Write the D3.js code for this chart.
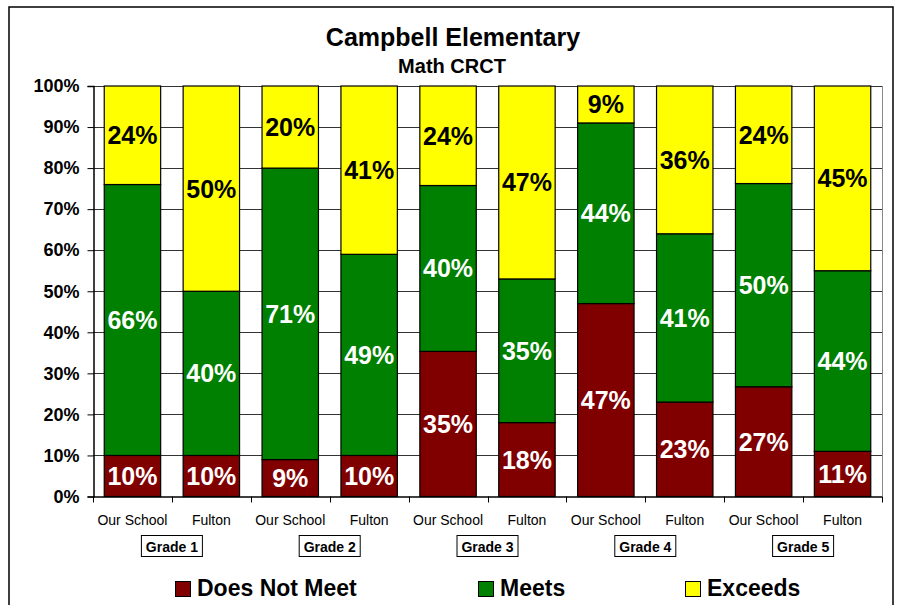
<!DOCTYPE html>
<html>
<head>
<meta charset="utf-8">
<script src="https://cdn.jsdelivr.net/npm/d3@7"></script>
<style>
  body { margin: 0; background: #fff; }
  text { font-family: Arial, "Liberation Sans", sans-serif; }
</style>
</head>
<body>
<svg id="svg1" width="898" height="605"></svg>
<script>
// data
const grades = ["Grade 1", "Grade 2", "Grade 3", "Grade 4", "Grade 5"];
const schools = ["Our School", "Fulton"];
const doesNotMeet = [10, 10, 9, 10, 35, 18, 47, 23, 27, 11];
const meets = [66, 40, 71, 49, 40, 35, 44, 41, 50, 44];
const exceeds = [24, 50, 20, 41, 24, 47, 9, 36, 24, 45];
const seriesNames = ["Does Not Meet", "Meets", "Exceeds"];
const yTicks = [0, 0.1, 0.2, 0.3, 0.4, 0.5, 0.6, 0.7, 0.8, 0.9, 1];

const colors = {"Does Not Meet": "#800000", "Meets": "#008000", "Exceeds": "#ffff00"};
const labelColors = {"Does Not Meet": "#fff", "Meets": "#fff", "Exceeds": "#000"};

// layout
const plot = {left: 93, right: 882, top: 86, bottom: 496.5};

const svg = d3.select('#svg1');

// outer chart border (runs off the bottom of the picture)
svg.append("rect")
    .attr("x", 9).attr("y", 7)
    .attr("width", 884).attr("height", 620)
    .attr("fill", "#fff")
    .attr("stroke", "#000")
    .attr("stroke-width", 1.5);

// build table rows, one per bar
const rows = d3.range(doesNotMeet.length).map(function(i) {
  return {
    id: i,
    school: schools[i % 2],
    grade: grades[Math.floor(i / 2)],
    "Does Not Meet": doesNotMeet[i],
    "Meets": meets[i],
    "Exceeds": exceeds[i]
  };
});

const stacked = d3.stack()
    .keys(seriesNames)
    .offset(d3.stackOffsetExpand)(rows);

const x = d3.scaleBand()
    .domain(rows.map(function(d) { return d.id; }))
    .range([plot.left, plot.right])
    .paddingInner(0.285)
    .paddingOuter(0.1425);

const y = d3.scaleLinear()
    .domain([0, 1])
    .range([plot.bottom, plot.top]);

// gridlines
svg.append("g")
    .selectAll("line")
    .data(yTicks.slice(1))
    .enter()
    .append("line")
    .attr("x1", plot.left).attr("x2", plot.right)
    .attr("y1", function(d) { return Math.round(y(d)) + 0.5; })
    .attr("y2", function(d) { return Math.round(y(d)) + 0.5; })
    .attr("stroke", "#333")
    .attr("stroke-width", 1);

// right edge of plot area
svg.append("line")
    .attr("x1", plot.right + 0.5).attr("x2", plot.right + 0.5)
    .attr("y1", plot.top).attr("y2", plot.bottom)
    .attr("stroke", "#888");

// Y axis
const yAxis = svg.append("g")
    .attr("transform", "translate(" + (plot.left + 0.5) + ",0)")
    .call(d3.axisLeft(y).tickValues(yTicks).tickFormat(d3.format(".0%")).tickSize(6).tickPadding(8));
yAxis.select(".domain").attr("stroke", "#000").attr("stroke-width", 1.5);
yAxis.selectAll(".tick line").attr("stroke", "#000");
yAxis.selectAll(".tick text")
    .attr("fill", "#000")
    .style("font-size", "18px")
    .style("font-weight", "bold")
    .style("font-family", "Arial, 'Liberation Sans', sans-serif");

// bars
const layers = svg.append("g")
    .selectAll("g")
    .data(stacked)
    .enter()
    .append("g")
    .attr("fill", function(d) { return colors[d.key]; });

layers.selectAll("rect")
    .data(function(d) { return d; })
    .enter()
    .append("rect")
    .attr("x", function(d) { return x(d.data.id); })
    .attr("y", function(d) { return y(d[1]); })
    .attr("width", x.bandwidth())
    .attr("height", function(d) { return y(d[0]) - y(d[1]); })
    .attr("stroke", "#000")
    .attr("stroke-width", 1.2);

// value labels
stacked.forEach(function(layer) {
  svg.append("g")
      .selectAll("text")
      .data(layer)
      .enter()
      .append("text")
      .attr("x", function(d) { return x(d.data.id) + x.bandwidth() / 2; })
      .attr("y", function(d) { return (y(d[0]) + y(d[1])) / 2; })
      .attr("dy", "0.36em")
      .attr("text-anchor", "middle")
      .attr("fill", labelColors[layer.key])
      .style("font-size", "25px")
      .style("font-weight", "bold")
      .text(function(d) { return d.data[layer.key] + "%"; });
});

// X axis line and ticks at category boundaries
svg.append("line")
    .attr("x1", plot.left).attr("x2", plot.right)
    .attr("y1", plot.bottom + 0.5).attr("y2", plot.bottom + 0.5)
    .attr("stroke", "#000").attr("stroke-width", 1.5);

const step = x.step();
svg.append("g")
    .selectAll("line")
    .data(d3.range(rows.length + 1))
    .enter()
    .append("line")
    .attr("x1", function(k) { return Math.round(plot.left + k * step) + 0.5; })
    .attr("x2", function(k) { return Math.round(plot.left + k * step) + 0.5; })
    .attr("y1", plot.bottom).attr("y2", plot.bottom + 6)
    .attr("stroke", "#000");

// school labels
svg.append("g")
    .selectAll("text")
    .data(rows)
    .enter()
    .append("text")
    .attr("x", function(d) { return x(d.id) + x.bandwidth() / 2; })
    .attr("y", 525)
    .attr("text-anchor", "middle")
    .style("font-size", "14px")
    .text(function(d) { return d.school; });

// grade boxes
const gradeG = svg.append("g")
    .selectAll("g")
    .data(grades)
    .enter()
    .append("g")
    .attr("transform", function(d, i) {
      return "translate(" + (plot.left + (2 * i + 1) * step) + ",546)";
    });

gradeG.append("rect")
    .attr("x", -30.5).attr("y", -10.5)
    .attr("width", 61).attr("height", 21)
    .attr("fill", "#fff")
    .attr("stroke", "#000");

gradeG.append("text")
    .attr("text-anchor", "middle")
    .attr("y", 5.5)
    .style("font-size", "14px")
    .style("font-weight", "bold")
    .text(function(d) { return d; });

// title
svg.append("text")
    .attr("x", 453).attr("y", 46)
    .attr("text-anchor", "middle")
    .style("font-size", "25px")
    .style("font-weight", "bold")
    .text("Campbell Elementary");

svg.append("text")
    .attr("x", 452).attr("y", 73)
    .attr("text-anchor", "middle")
    .style("font-size", "20px")
    .style("font-weight", "bold")
    .text("Math CRCT");

// legend
const legendX = [175, 478, 685];
const legend = svg.append("g")
    .selectAll("g")
    .data(seriesNames)
    .enter()
    .append("g")
    .attr("transform", function(d, i) { return "translate(" + legendX[i] + ",581)"; });

legend.append("rect")
    .attr("x", 0.5).attr("y", 0.5)
    .attr("width", 15).attr("height", 15)
    .attr("fill", function(d) { return colors[d]; })
    .attr("stroke", "#000");

legend.append("text")
    .attr("x", 22).attr("y", 15)
    .style("font-size", "23px")
    .style("font-weight", "bold")
    .text(function(d) { return d; });
</script>
</body>
</html>
